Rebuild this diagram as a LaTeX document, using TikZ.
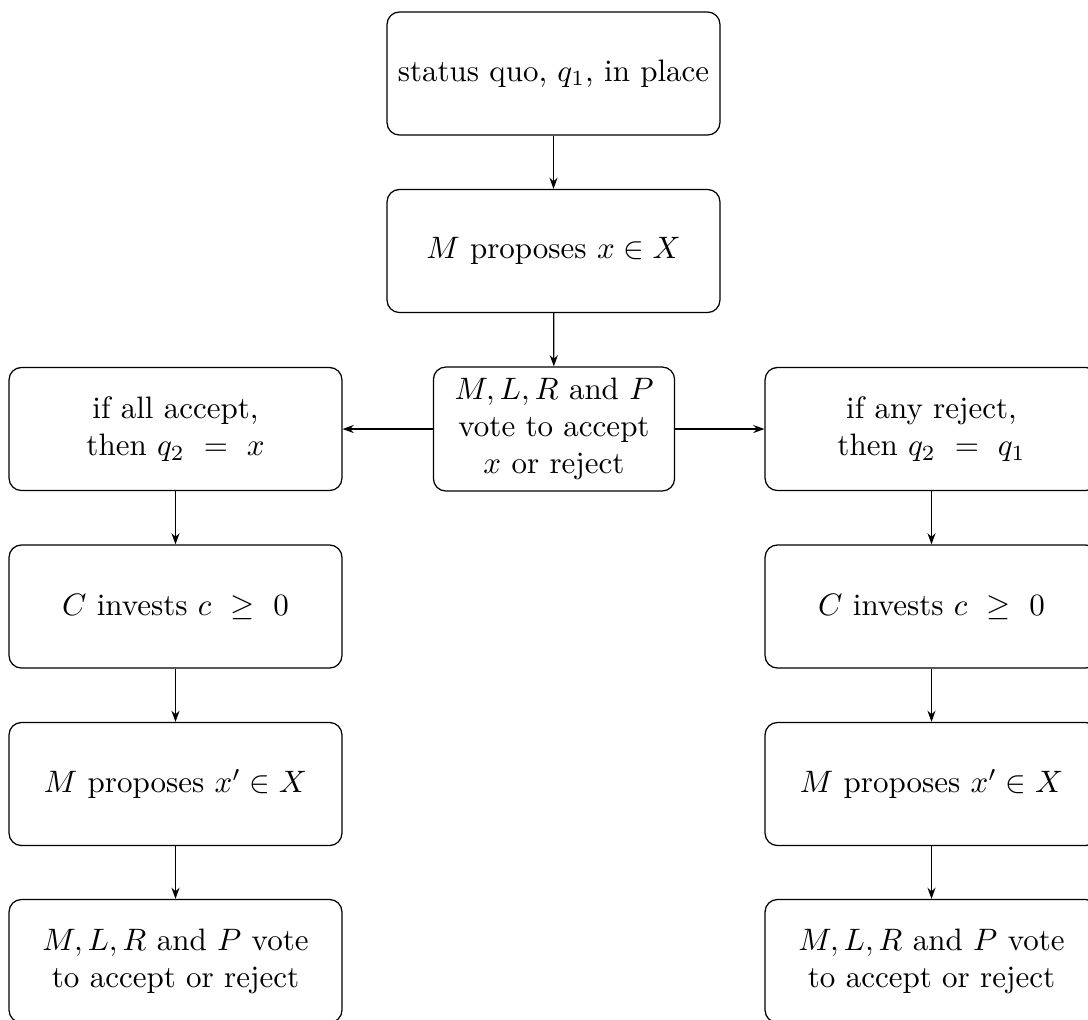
\documentclass[tikz,border=0pt]{standalone}
\usetikzlibrary{arrows.meta}
\begin{document}
\begin{tikzpicture}[x=0.32258pt,y=-0.32258pt,
  box/.style={draw, rounded corners=4pt, minimum width=107.4pt, minimum height=39.7pt, align=center, inner sep=3.33pt},
  votebox/.style={draw, rounded corners=4pt, text width=2.5cm, minimum height=40pt, align=center, inner sep=3.33pt},
  conn/.style={-{Stealth[length=3.6pt,width=2.6pt]}}]
\useasboundingbox (0,0) rectangle (1088,1019);
\clip (0,0) rectangle (1088,1019);
\node[box] (sq) at (553.5,73.5) {status quo, $q_1$, in place};
\node[box] (prop) at (553.5,251) {$M$ proposes $x \in X$};
\node[votebox] (vote) at (554,429) {$M, L, R$ and $P$ vote to accept $x$ or reject};
\node[box] (acc) at (175.5,429) {if all accept,\\ then $q_2\ =\ x$};
\node[box] (rej) at (931.5,429) {if any reject,\\ then $q_2\ =\ q_1$};
\node[box] (invL) at (175.5,606.5) {$C$ invests $c\ \geq\ 0$};
\node[box] (invR) at (931.5,606.5) {$C$ invests $c\ \geq\ 0$};
\node[box] (propL) at (175.5,784) {$M$ proposes $x' \in X$};
\node[box] (propR) at (931.5,784) {$M$ proposes $x' \in X$};
\node[box] (voteL) at (175.5,961) {$M, L, R$ and $P$ vote\\ to accept or reject};
\node[box] (voteR) at (931.5,961) {$M, L, R$ and $P$ vote\\ to accept or reject};
\draw[conn] (sq) -- (prop);
\draw[conn] (prop) -- (vote);
\draw[conn] (vote) -- (acc);
\draw[conn] (vote) -- (rej);
\draw[conn] (acc) -- (invL);
\draw[conn] (invL) -- (propL);
\draw[conn] (propL) -- (voteL);
\draw[conn] (rej) -- (invR);
\draw[conn] (invR) -- (propR);
\draw[conn] (propR) -- (voteR);
\end{tikzpicture}
\end{document}
